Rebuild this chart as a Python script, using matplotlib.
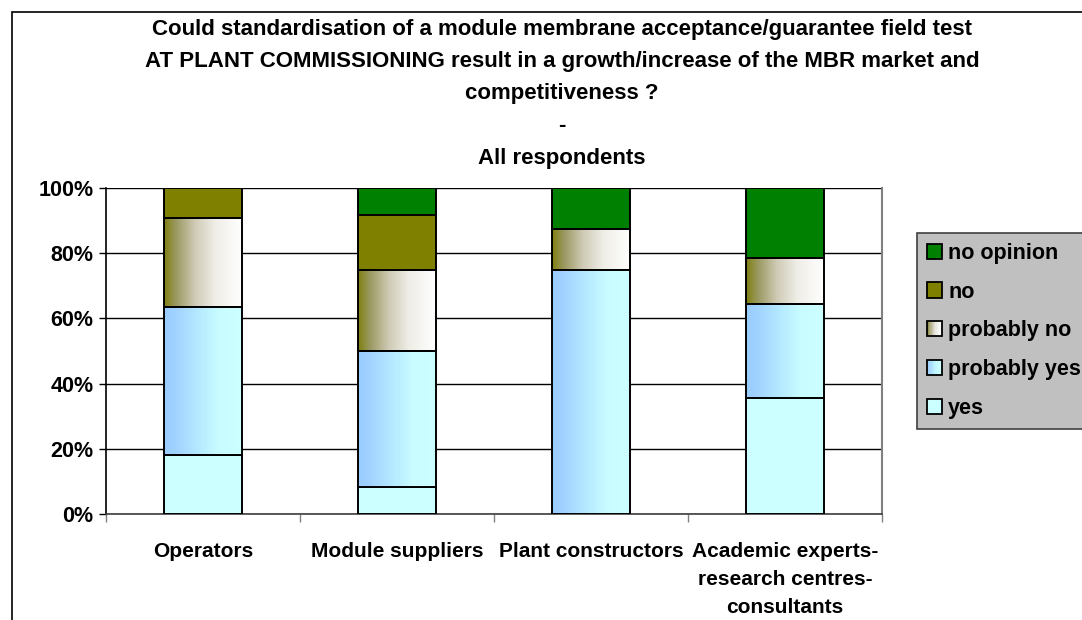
import numpy as np
import matplotlib
matplotlib.use('Agg')
import matplotlib.pyplot as plt
from matplotlib.colors import LinearSegmentedColormap
from matplotlib.patches import Rectangle
from matplotlib.legend_handler import HandlerBase

plt.rcParams['font.family'] = ['Liberation Sans', 'DejaVu Sans']
plt.rcParams['font.weight'] = 'bold'

# survey answers, share of respondents per group (%)
groups = ['Operators', 'Module suppliers', 'Plant constructors',
          'Academic experts-\nresearch centres-\nconsultants']
answers = ['yes', 'probably yes', 'probably no', 'no', 'no opinion']
yes = [100 * 2 / 11, 100 * 1 / 12, 0.0, 100 * 5 / 14]
probably_yes = [100 * 5 / 11, 100 * 5 / 12, 75.0, 100 * 4 / 14]
probably_no = [100 * 3 / 11, 100 * 3 / 12, 12.5, 100 * 2 / 14]
no = [100 * 1 / 11, 100 * 2 / 12, 0.0, 0.0]
no_opinion = [0.0, 100 * 1 / 12, 12.5, 100 * 3 / 14]
series = [yes, probably_yes, probably_no, no, no_opinion]

title_lines = ['Could standardisation of a module membrane acceptance/guarantee field test',
               'AT PLANT COMMISSIONING result in a growth/increase of the MBR market and',
               'competitiveness ?', '-', 'All respondents']

# fills: plain colours or horizontal gradients
cm_pyes = LinearSegmentedColormap.from_list(
    'pyes', [(0, '#99ccff'), (0.12, '#9fd0ff'), (0.45, '#b6eaff'), (0.7, '#c8fcff'), (1, '#ccffff')])
cm_pno = LinearSegmentedColormap.from_list(
    'pno', [(0, '#808010'), (0.15, '#9a9860'), (0.4, '#cfcbb6'), (0.65, '#eeede6'), (1, '#ffffff')])
fills = ['#ccffff', cm_pyes, cm_pno, '#808000', '#008000']

fig = plt.figure(figsize=(10.82, 6.2), dpi=100)
fig.patch.set_facecolor('white')
ax = fig.add_axes([106 / 1082, 106 / 620, 776 / 1082, 326 / 620])

x = np.arange(len(groups))
grad = np.linspace(0, 1, 256).reshape(1, -1)
bottom = np.zeros(len(groups))
for vals, fill, name in zip(series, fills, answers):
    vals = np.array(vals)
    if isinstance(fill, str):
        ax.bar(x, vals, 0.4, bottom=bottom, color=fill, edgecolor='black',
               linewidth=1.4, zorder=3, label=name)
    else:
        bars = ax.bar(x, vals, 0.4, bottom=bottom, facecolor='none', edgecolor='black',
                      linewidth=1.4, zorder=4, label=name)
        for r in bars:
            if r.get_height() <= 0:
                continue
            ax.imshow(grad, cmap=fill, aspect='auto', zorder=3,
                      extent=(r.get_x(), r.get_x() + r.get_width(),
                              r.get_y(), r.get_y() + r.get_height()))
    bottom += vals

ax.set_xlim(-0.5, len(groups) - 0.5)
ax.set_ylim(0, 100)
ax.set_yticks(np.arange(0, 101, 20))
ax.set_yticklabels([f'{v}%' for v in range(0, 101, 20)], fontsize=15.5)
ax.set_xticks(x)
ax.set_xticklabels(groups, fontsize=15, linespacing=1.6, va='top')
ax.tick_params(axis='x', length=0, pad=20)
ax.set_xticks(np.arange(len(groups) + 1) - 0.5, minor=True)
ax.tick_params(axis='x', which='minor', length=6, width=1, color='#808080')
ax.tick_params(axis='y', length=5, width=1, pad=4)
ax.yaxis.grid(True, color='black', linewidth=1, zorder=0)
ax.set_axisbelow(True)
ax.spines['top'].set_visible(False)
ax.spines['right'].set_color('#808080')
ax.spines['right'].set_linewidth(1.5)
ax.spines['left'].set_linewidth(1.2)
ax.spines['bottom'].set_linewidth(1.2)
ax.spines['bottom'].set_color('#404040')


class GradientHandler(HandlerBase):
    def create_artists(self, legend, orig_handle, xdescent, ydescent, width,
                       height, fontsize, trans):
        s = min(width, height)
        x0 = -xdescent + (width - s) / 2
        y0 = -ydescent
        fill = orig_handle._fill
        arts = []
        if isinstance(fill, str):
            arts.append(Rectangle((x0, y0), s, s, facecolor=fill, edgecolor='none', transform=trans))
        else:
            n = 12
            for i in range(n):
                arts.append(Rectangle((x0 + i * s / n, y0), s / n + 0.3, s,
                                      facecolor=fill((i + 0.5) / n), edgecolor='none',
                                      transform=trans))
        arts.append(Rectangle((x0, y0), s, s, facecolor='none', edgecolor='black',
                              linewidth=1.3, transform=trans))
        return arts


handles = []
for fill, name in zip(fills, answers):
    h = Rectangle((0, 0), 1, 1, label=name)
    h._fill = fill
    handles.append(h)
handles = handles[::-1]
leg = fig.legend(handles=handles, labels=[h.get_label() for h in handles],
                 handler_map={Rectangle: GradientHandler()},
                 loc='upper left', bbox_to_anchor=(917 / 1082, 1 - 233 / 620),
                 fontsize=15.5, frameon=True, fancybox=False, handlelength=0.7,
                 handleheight=0.7, handletextpad=0.3, labelspacing=0.83,
                 borderpad=0.45, borderaxespad=0)
leg.get_frame().set_facecolor('#c0c0c0')
leg.get_frame().set_edgecolor('#404040')
leg.get_frame().set_linewidth(1.2)
leg.get_frame().set_alpha(1)

for i, line in enumerate(title_lines):
    fig.text(562 / 1082, 1 - (29 + 32.3 * i) / 620, line, ha='center', va='center',
             fontsize=16, fontweight='bold')

# outer chart frame
fig.patches.append(Rectangle((12 / 1082, -0.1), 1.2, 1.1 - 12 / 620, transform=fig.transFigure,
                             facecolor='none', edgecolor='black', linewidth=1.2))

fig.savefig('out.png', dpi=100)
